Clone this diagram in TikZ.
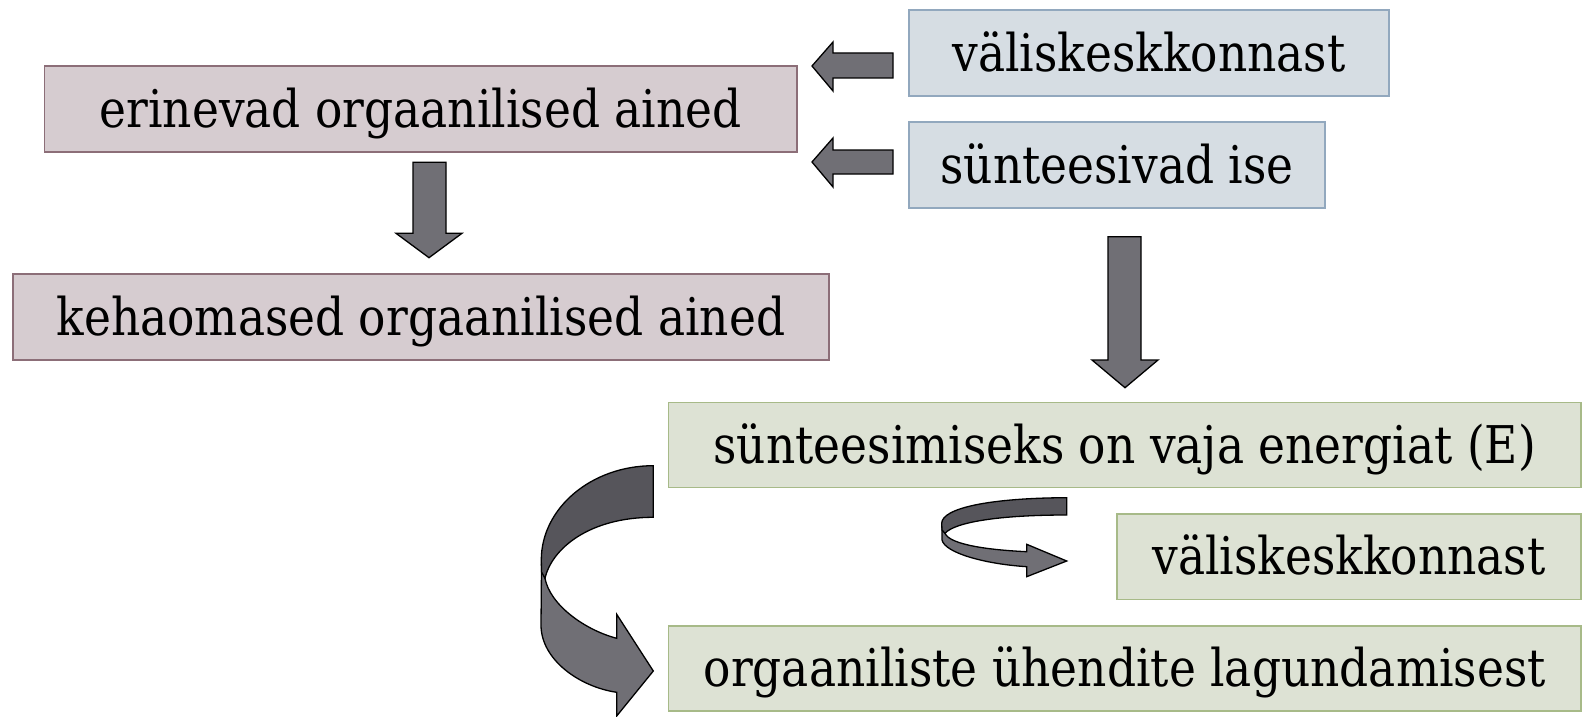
\documentclass[tikz,border=0pt]{standalone}
\usepackage{fontspec}
\usepackage{graphicx}
\setmainfont{DejaVu Serif}
\definecolor{pinkfill}{RGB}{214,204,208}
\definecolor{pinkline}{RGB}{140,110,120}
\definecolor{bluefill}{RGB}{214,221,227}
\definecolor{blueline}{RGB}{146,168,190}
\definecolor{greenfill}{RGB}{221,226,212}
\definecolor{greenline}{RGB}{167,186,136}
\definecolor{arrowfill}{RGB}{112,111,117}
\definecolor{arrowdark}{RGB}{86,85,91}
\newcommand{\lbl}[1]{\scalebox{0.875}[1]{#1}}
\tikzset{
  box/.style={rectangle, inner sep=0pt, line width=1.5pt, text height=38.5pt, text depth=2pt,
    font=\fontsize{52}{60}\selectfont, minimum height=86pt},
  pinkbox/.style={box, fill=pinkfill, draw=pinkline},
  bluebox/.style={box, fill=bluefill, draw=blueline},
  greenbox/.style={box, fill=greenfill, draw=greenline},
  blockarrow/.style={fill=arrowfill, draw=black, line width=1.3pt, line join=miter},
  darkpart/.style={fill=arrowdark, draw=black, line width=1.3pt, line join=miter},
}
\begin{document}
\begin{tikzpicture}[x=1pt,y=-1pt]
\useasboundingbox (0,0) rectangle (1583,717);

% boxes
\node[pinkbox, minimum width=752.5pt] (A) at (420.75,109) {\lbl{erinevad orgaanilised ained}};
\node[pinkbox, minimum width=816pt] (B) at (421,317) {\lbl{kehaomased orgaanilised ained}};
\node[bluebox, minimum width=480pt] (C) at (1149,53) {\lbl{väliskeskkonnast}};
\node[bluebox, minimum width=416pt] (D) at (1117,165) {\lbl{sünteesivad ise}};
\node[greenbox, minimum width=912.5pt, minimum height=85.4pt] (E) at (1124.7,445) {\lbl{sünteesimiseks on vaja energiat (E)}};
\node[greenbox, minimum width=464pt, minimum height=85.3pt] (F) at (1348.9,556.7) {\lbl{väliskeskkonnast}};
\node[greenbox, minimum width=912.5pt, minimum height=84.7pt] (G) at (1124.7,668.4) {\lbl{orgaaniliste ühendite lagundamisest}};

% straight block arrows
\draw[blockarrow] (413,162.3) -- (446,162.3) -- (446,233.3) -- (462,233.3) -- (429,257.7)
  -- (396,233.3) -- (413,233.3) -- cycle;
\draw[blockarrow] (893,53) -- (893,78) -- (833,78) -- (833,91) -- (812,66)
  -- (833,42) -- (833,53) -- cycle;
\draw[blockarrow] (893,150) -- (893,174) -- (833,174) -- (833,187) -- (812,162)
  -- (833,138) -- (833,150) -- cycle;
\draw[blockarrow] (1108,236.7) -- (1141,236.7) -- (1141,360) -- (1158,360) -- (1125,387.7)
  -- (1092,360) -- (1108,360) -- cycle;

% large curved arrow: light front band with head, then dark back band
\draw[blockarrow] (541.5,568) -- (541,625) .. controls (541,660) and (580,687) .. (616.7,692.3)
  -- (616.7,716) -- (653.3,671) -- (616.7,614.3) -- (616.7,638.3)
  .. controls (585,630) and (550,605) .. (545,578.3) -- cycle;
\draw[darkpart] (653.3,465.7) .. controls (591.5,465.7) and (541.3,508) .. (541.3,560)
  -- (541.5,572) -- (545,578.3) .. controls (552,548) and (590,517.3) .. (653.3,517.3) -- cycle;

% small curved arrow
\draw[blockarrow] (942,528) -- (942,540) .. controls (945,553) and (985,564) .. (1026.7,566.7)
  -- (1026.7,576.7) -- (1066.7,561) -- (1026.7,544.3) -- (1026.7,551.7)
  .. controls (990,550) and (950,545) .. (945,533.3) -- cycle;
\draw[darkpart] (1066.7,497.7) .. controls (990,498) and (942,508) .. (941.7,523.3)
  -- (942,530) -- (945,533.3) .. controls (955,522) and (1000,515) .. (1066.7,515) -- cycle;
\end{tikzpicture}
\end{document}
